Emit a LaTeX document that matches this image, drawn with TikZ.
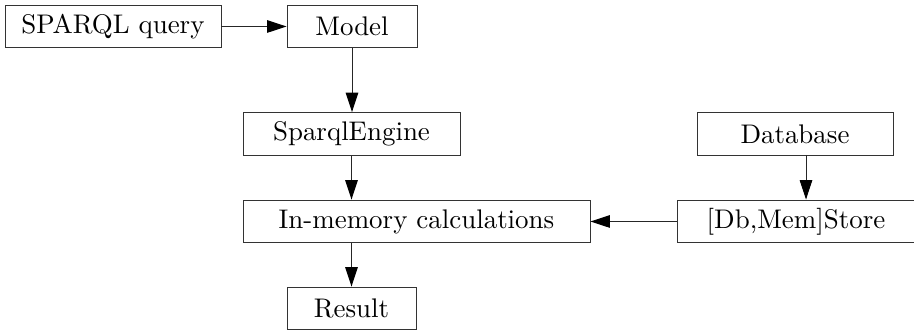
\documentclass[tikz,border=0pt]{standalone}
\usetikzlibrary{arrows.meta}
\begin{document}
\begin{tikzpicture}[x=0.375pt,y=-0.375pt,
  box/.style={draw=black!80,line width=0.35pt,rectangle,inner sep=0pt,minimum height=16.1pt,font=\fontsize{10.1}{12}\selectfont},
  arr/.style={draw=black!85,-{Triangle[length=7.3pt,width=4.7pt,color=black]},line width=0.35pt}]
\useasboundingbox (0,0) rectangle (914,332);
\node[box,minimum width=81pt] (sparql) at (113,26.5) {SPARQL query};
\node[box,minimum width=48.75pt] (model) at (352,26.5) {Model};
\node[box,minimum width=81.375pt] (engine) at (351.5,134) {SparqlEngine};
\node[box,minimum width=130.125pt] (inmem) at (416.5,221.5) {In-memory calculations};
\node[box,minimum width=73.5pt] (db) at (795,134) {Database};
\node[box,minimum width=89.25pt] (store) at (796,221.5) {[Db,Mem]Store};
\node[box,minimum width=48.375pt] (result) at (351.5,308.5) {Result};
\coordinate (dbout) at (806,155);
\draw[arr] (sparql) -- (model);
\draw[arr] (model.south) -- (model.south |- engine.north);
\draw[arr] (engine.south) -- (engine.south |- inmem.north);
\draw[arr] (inmem.south -| result.north) -- (result.north);
\draw[arr] (dbout) -- (dbout |- store.north);
\draw[arr] (store) -- (inmem);
\end{tikzpicture}
\end{document}
